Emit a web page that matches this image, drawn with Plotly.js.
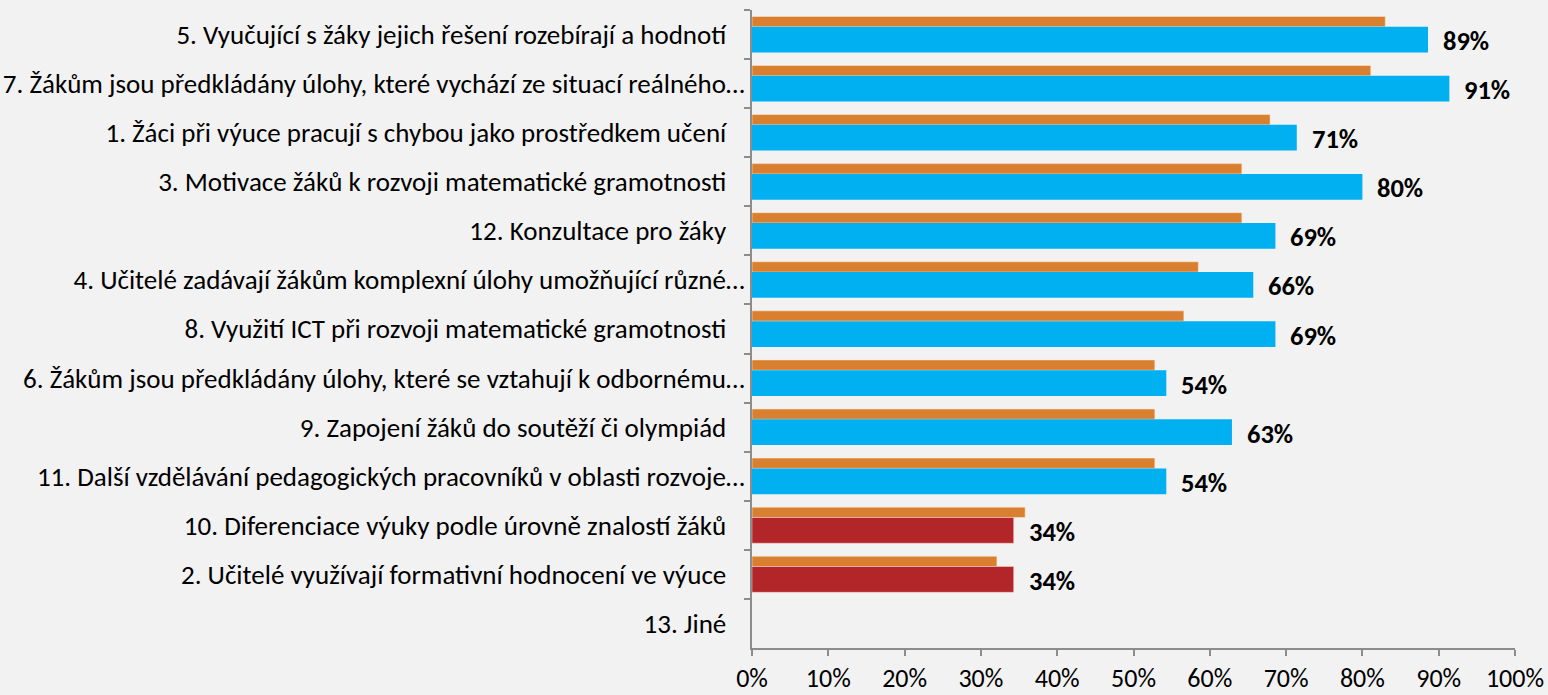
<!DOCTYPE html>
<html><head><meta charset="utf-8">
<script src="https://cdn.plot.ly/plotly-3.0.1.min.js"></script>
<style>html,body{margin:0;padding:0;background:#f2f2f2}#chart{width:1548px;height:695px}</style>
</head><body><div id="chart"></div>
<script>
// Categories (top to bottom), as shown on the chart
const categories = [
  "5. Vyučující s žáky jejich řešení rozebírají a hodnotí\u00a0\u00a0\u00a0",
  "7. Žákům jsou předkládány úlohy, které vychází ze situací reálného…",
  "1. Žáci při výuce pracují s chybou jako prostředkem učení\u00a0\u00a0\u00a0",
  "3. Motivace žáků k rozvoji matematické gramotnosti\u00a0\u00a0\u00a0",
  "12. Konzultace pro žáky\u00a0\u00a0\u00a0",
  "4. Učitelé zadávají žákům komplexní úlohy umožňující různé…",
  "8. Využití ICT při rozvoji matematické gramotnosti\u00a0\u00a0\u00a0",
  "6. Žákům jsou předkládány úlohy, které se vztahují k odbornému…",
  "9. Zapojení žáků do soutěží či olympiád\u00a0\u00a0\u00a0",
  "11. Další vzdělávání pedagogických pracovníků v oblasti rozvoje…",
  "10. Diferenciace výuky podle úrovně znalostí žáků\u00a0\u00a0\u00a0",
  "2. Učitelé využívají formativní hodnocení ve výuce\u00a0\u00a0\u00a0",
  "13. Jiné\u00a0\u00a0\u00a0"
];
// Comparison series (orange), percent
const comparison = [83.0, 81.1, 67.9, 64.2, 64.2, 58.5, 56.6, 52.8, 52.8, 52.8, 35.8, 32.1, null];
// School series (blue / red), percent
const school = [88.6, 91.4, 71.4, 80.0, 68.6, 65.7, 68.6, 54.3, 62.9, 54.3, 34.3, 34.3, null];
// x-axis ticks
const xTickVals = [0,10,20,30,40,50,60,70,80,90,100];
const xTickText = ["0%","10%","20%","30%","40%","50%","60%","70%","80%","90%","100%"];

const FONT = "Carlito, Calibri, 'Liberation Sans Narrow', sans-serif";
const ORANGE = "#D97F30", BLUE = "#00B0F0", RED = "#B22528";
const LOW = 50;

const traces = [
  {
    type: "bar", orientation: "h", x: comparison, y: categories,
    offset: -0.37, width: 0.21,
    marker: {color: ORANGE, line: {color: "rgba(255,235,215,0.55)", width: 1}},
    hoverinfo: "x+y", showlegend: false
  },
  {
    type: "bar", orientation: "h", x: school, y: categories,
    offset: -0.16, width: 0.525,
    marker: {color: school.map(v => (v !== null && v < LOW) ? RED : BLUE),
             line: {color: school.map(v => (v !== null && v < LOW) ? "rgba(255,220,220,0.5)" : "rgba(0,0,0,0)"), width: 1}},
    hoverinfo: "x+y", showlegend: false
  }
];

const annotations = school.map((v, i) => v === null ? null : ({
  x: v, y: categories[i], xref: "x", yref: "y",
  text: Math.round(v) + "%", showarrow: false,
  xanchor: "left", yanchor: "middle", xshift: 13, yshift: -6.5,
  font: {family: FONT, size: 26.5, color: "#000000", weight: "bold"}
})).filter(a => a);

const layout = {
  width: 1548, height: 695,
  paper_bgcolor: "#f2f2f2", plot_bgcolor: "#f2f2f2",
  margin: {l: 752, r: 33, t: 10, b: 47, pad: 0},
  barmode: "overlay",
  font: {family: FONT, color: "#000000"},
  xaxis: {
    range: [0, 100], tickvals: xTickVals, ticktext: xTickText,
    showgrid: false, zeroline: false,
    showline: true, linecolor: "#8c8c8c", linewidth: 2,
    ticks: "outside", ticklen: 6, tickwidth: 2, tickcolor: "#8c8c8c",
    tickfont: {family: FONT, size: 26, color: "#000000"},
    fixedrange: true
  },
  yaxis: {
    type: "category", categoryorder: "array", categoryarray: categories,
    autorange: false, range: [categories.length - 0.5, -0.5],
    showgrid: false, zeroline: false,
    showline: true, linecolor: "#8c8c8c", linewidth: 2,
    ticks: "outside", ticklen: 6, tickwidth: 2, tickcolor: "#8c8c8c",
    tickson: "boundaries",
    tickfont: {family: FONT, size: 27, color: "#000000"},
    fixedrange: true
  },
  annotations: annotations,
  showlegend: false
};

Plotly.newPlot("chart", traces, layout, {displayModeBar: false, staticPlot: true});
</script></body></html>
